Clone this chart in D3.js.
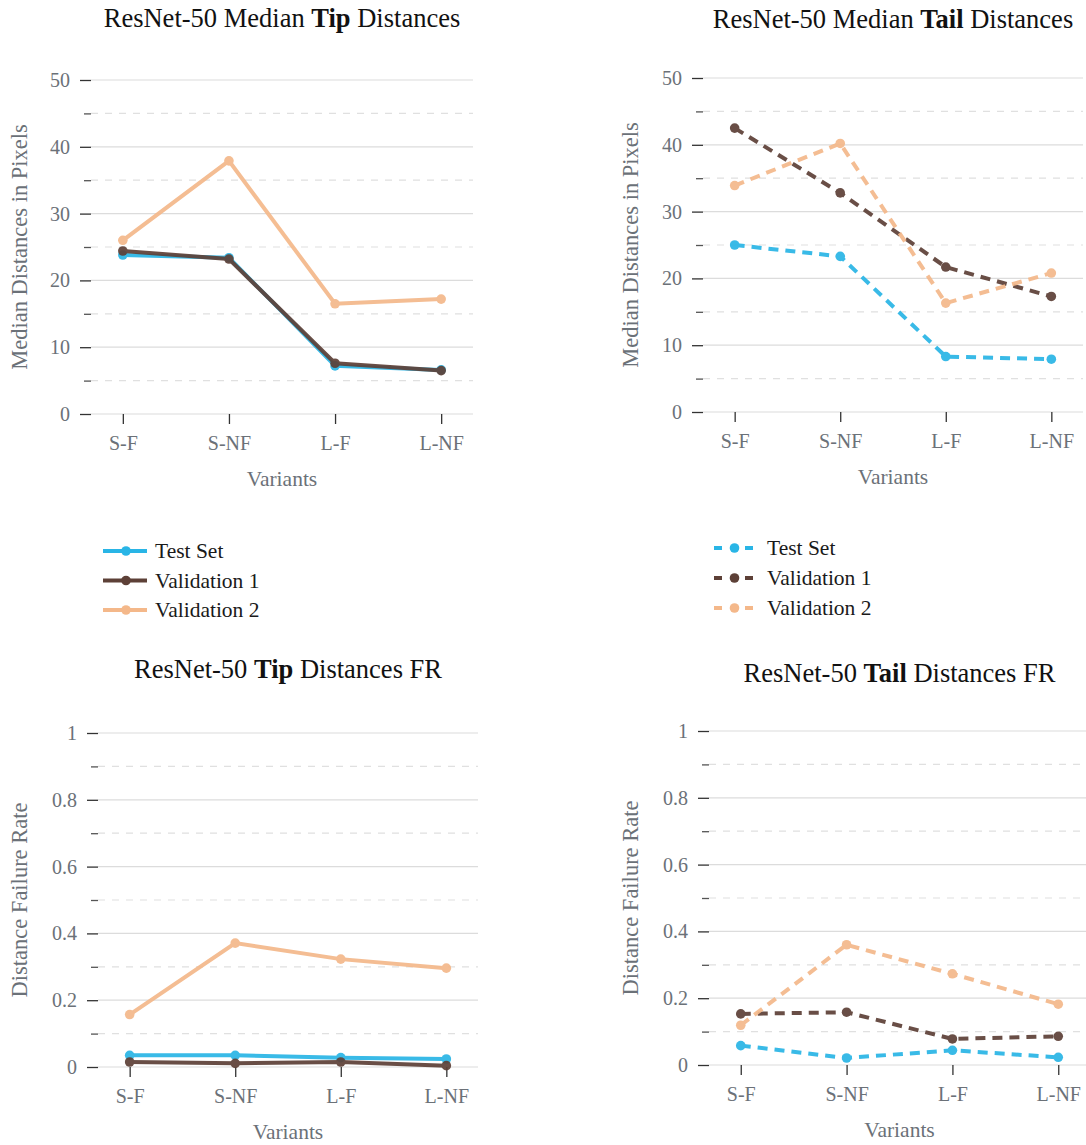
<!DOCTYPE html>
<html>
<head>
<meta charset="utf-8">
<script src="https://cdn.jsdelivr.net/npm/d3@7"></script>
<style>
  html, body { margin: 0; padding: 0; background: #fff; }
  svg { display: block; font-family: "Liberation Serif", "DejaVu Serif", serif; }
</style>
</head>
<body>
<svg id="chart" width="1086" height="1145"></svg>
<script>
// Variants on the x axis
const variants = ["S-F", "S-NF", "L-F", "L-NF"];
const seriesNames = ["Test Set", "Validation 1", "Validation 2"];
const seriesColors = ["#29b5e6", "#5d4037", "#f4b88a"];

// Median tip distances (pixels)
const tipMedianTest = [23.8, 23.4, 7.2, 6.6];
const tipMedianVal1 = [24.4, 23.2, 7.6, 6.5];
const tipMedianVal2 = [26.0, 37.9, 16.5, 17.2];

// Median tail distances (pixels)
const tailMedianTest = [25.0, 23.3, 8.3, 7.9];
const tailMedianVal1 = [42.5, 32.8, 21.7, 17.3];
const tailMedianVal2 = [33.9, 40.2, 16.3, 20.8];

// Tip distance failure rate
const tipFRTest = [0.035, 0.035, 0.028, 0.024];
const tipFRVal1 = [0.015, 0.011, 0.015, 0.004];
const tipFRVal2 = [0.157, 0.371, 0.323, 0.296];

// Tail distance failure rate
const tailFRTest = [0.058, 0.021, 0.044, 0.023];
const tailFRVal1 = [0.153, 0.158, 0.078, 0.086];
const tailFRVal2 = [0.119, 0.360, 0.273, 0.182];

// Axis ticks
const distMajorTicks = [0, 10, 20, 30, 40, 50];
const distMinorTicks = [5, 15, 25, 35, 45];
const rateMajorTicks = [0, 0.2, 0.4, 0.6, 0.8, 1];
const rateMinorTicks = [0.1, 0.3, 0.5, 0.7, 0.9];

const svg = d3.select("#chart");
const tickColor = "#6b7178";

function panel(cfg) {
  const g = svg.append("g");
  const x = d3.scalePoint().domain(variants).range([cfg.x0, cfg.x1]).padding(0.3);
  const y = d3.scaleLinear().domain(cfg.domain).range([cfg.yBottom, cfg.yTop]);

  // major gridlines
  g.append("g").selectAll("line").data(cfg.major).join("line")
    .attr("x1", cfg.x0).attr("x2", cfg.x1)
    .attr("y1", d => y(d)).attr("y2", d => y(d))
    .attr("stroke", "#dcdcdc").attr("stroke-width", 1.2);
  // minor dashed gridlines
  g.append("g").selectAll("line").data(cfg.minor).join("line")
    .attr("x1", cfg.x0).attr("x2", cfg.x1)
    .attr("y1", d => y(d)).attr("y2", d => y(d))
    .attr("stroke", "#e0e0e0").attr("stroke-width", 1.2)
    .attr("stroke-dasharray", "7,7");

  // left axis: major ticks with labels
  const yAxis = g.append("g").attr("transform", `translate(${cfg.x0},0)`)
    .call(d3.axisLeft(y).tickValues(cfg.major).tickSize(11).tickPadding(10).tickFormat(cfg.fmt))
    .attr("font-family", null).attr("font-size", null);
  yAxis.select(".domain").remove();
  yAxis.selectAll(".tick line").attr("stroke", "#333").attr("stroke-width", 1.3);
  yAxis.selectAll(".tick text").attr("fill", tickColor).style("font-size", "20px");
  // minor ticks
  const yMinor = g.append("g").attr("transform", `translate(${cfg.x0},0)`)
    .call(d3.axisLeft(y).tickValues(cfg.minor).tickSize(7).tickFormat(""));
  yMinor.select(".domain").remove();
  yMinor.selectAll(".tick line").attr("stroke", "#555").attr("stroke-width", 1.3);

  // bottom axis
  const xAxis = g.append("g").attr("transform", `translate(0,${cfg.yBottom})`)
    .call(d3.axisBottom(x).tickSize(10))
    .attr("font-family", null).attr("font-size", null);
  xAxis.select(".domain").remove();
  xAxis.selectAll(".tick line").attr("stroke", "#333").attr("stroke-width", 1.3);
  xAxis.selectAll(".tick text").attr("fill", tickColor).attr("dy", null).attr("y", 36)
    .style("font-size", "20px");

  // axis titles
  g.append("text")
    .attr("x", (cfg.x0 + cfg.x1) / 2).attr("y", cfg.yBottom + 72)
    .attr("text-anchor", "middle").attr("fill", tickColor)
    .style("font-size", "21.5px").text("Variants");
  g.append("text")
    .attr("transform", `translate(${cfg.yLabelX},${(cfg.yTop + cfg.yBottom) / 2}) rotate(-90)`)
    .attr("text-anchor", "middle").attr("fill", tickColor)
    .style("font-size", "22.5px").text(cfg.yLabel);

  // chart title with a bold keyword
  const t = g.append("text")
    .attr("x", (cfg.x0 + cfg.x1) / 2).attr("y", cfg.titleY)
    .attr("text-anchor", "middle").attr("fill", "#111")
    .style("font-size", "26.5px");
  t.append("tspan").text(cfg.title[0]);
  t.append("tspan").attr("font-weight", "bold").text(cfg.title[1]);
  t.append("tspan").text(cfg.title[2]);

  // series lines and points
  const line = d3.line().x((d, i) => x(variants[i])).y(d => y(d));
  cfg.series.forEach((vals, si) => {
    const s = g.append("g").attr("opacity", 0.92);
    s.append("path").datum(vals)
      .attr("d", line).attr("fill", "none")
      .attr("stroke", seriesColors[si]).attr("stroke-width", 4)
      .attr("stroke-dasharray", cfg.dashed ? "10,7" : null);
    s.selectAll("circle").data(vals).join("circle")
      .attr("cx", (d, i) => x(variants[i])).attr("cy", d => y(d))
      .attr("r", 4.8).attr("fill", seriesColors[si]);
  });

  // legend
  if (cfg.legend) {
    const L = cfg.legend;
    seriesNames.forEach((name, si) => {
      const ry = L.y + si * L.dy;
      const lg = g.append("g");
      lg.append("line")
        .attr("x1", L.x).attr("x2", L.x + L.w).attr("y1", ry).attr("y2", ry)
        .attr("stroke", seriesColors[si]).attr("stroke-width", 4)
        .attr("stroke-dasharray", cfg.dashed ? `8,${L.w - 16}` : null);
      lg.append("circle").attr("cx", L.x + L.w / 2 + 1).attr("cy", ry)
        .attr("r", 4.8).attr("fill", seriesColors[si]);
      lg.append("text").attr("x", L.tx).attr("y", ry)
        .attr("dominant-baseline", "central").attr("fill", "#1a1a1a")
        .style("font-size", "21.5px").text(name);
    });
  }
}

const fmtDist = d3.format("d");
const fmtRate = d => (d === 0 ? "0" : d === 1 ? "1" : d3.format(".1f")(d));

panel({
  x0: 91, x1: 473, yTop: 80, yBottom: 414, domain: [0, 50],
  major: distMajorTicks, minor: distMinorTicks, fmt: fmtDist,
  yLabel: "Median Distances in Pixels", yLabelX: 27,
  title: ["ResNet-50 Median ", "Tip", " Distances"], titleY: 27,
  series: [tipMedianTest, tipMedianVal1, tipMedianVal2], dashed: false,
  legend: { x: 103, w: 44, y: 551, dy: 29.5, tx: 155 }
});

panel({
  x0: 703, x1: 1083, yTop: 78, yBottom: 412, domain: [0, 50],
  major: distMajorTicks, minor: distMinorTicks, fmt: fmtDist,
  yLabel: "Median Distances in Pixels", yLabelX: 638,
  title: ["ResNet-50 Median ", "Tail", " Distances"], titleY: 28,
  series: [tailMedianTest, tailMedianVal1, tailMedianVal2], dashed: true,
  legend: { x: 714, w: 39, y: 548, dy: 30, tx: 767 }
});

panel({
  x0: 98, x1: 478, yTop: 733, yBottom: 1067, domain: [0, 1],
  major: rateMajorTicks, minor: rateMinorTicks, fmt: fmtRate,
  yLabel: "Distance Failure Rate", yLabelX: 27,
  title: ["ResNet-50 ", "Tip", " Distances FR"], titleY: 678,
  series: [tipFRTest, tipFRVal1, tipFRVal2], dashed: false
});

panel({
  x0: 709, x1: 1090, yTop: 731, yBottom: 1065, domain: [0, 1],
  major: rateMajorTicks, minor: rateMinorTicks, fmt: fmtRate,
  yLabel: "Distance Failure Rate", yLabelX: 638,
  title: ["ResNet-50 ", "Tail", " Distances FR"], titleY: 682,
  series: [tailFRTest, tailFRVal1, tailFRVal2], dashed: true
});
</script>
</body>
</html>
